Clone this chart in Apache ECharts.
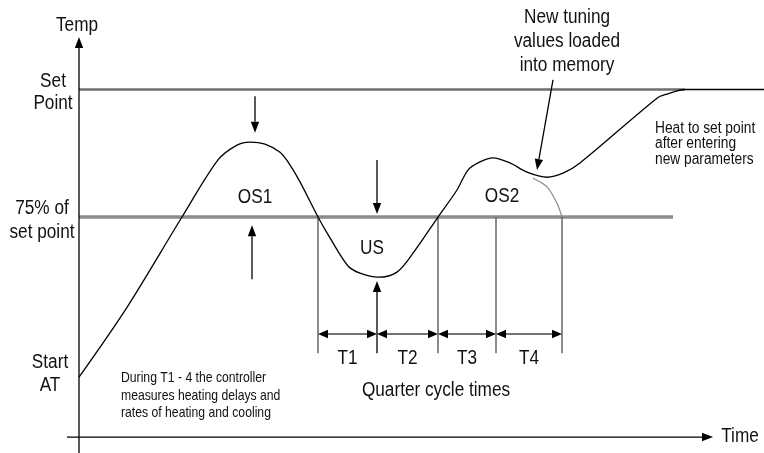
<!DOCTYPE html>
<html><head><meta charset="utf-8">
<script src="https://cdn.jsdelivr.net/npm/echarts@6/dist/echarts.min.js"></script>
<style>html,body{margin:0;padding:0;background:#fff}#c{width:764px;height:453px}</style>
</head><body><div id="c"></div>
<script>
// ---- Data (time units, temperature in % of set point) ----
const curveTime = [0, 4.8, 10.3, 13.9, 15.8, 17.1, 18.6, 20.1, 20.9, 22.1, 23.9, 25.1, 26.9, 28.1, 29.9, 31.8, 33.4, 35.9, 37.8, 38.9, 40.1, 41.4, 43.1, 44.8, 46.8, 48.4, 50.1, 57.8, 58.8, 60.6, 68.5];
const curveTemp = [43.6, 57.3, 75, 86.2, 89.1, 89.7, 89.3, 87.7, 85.8, 81.9, 75, 70.9, 65.4, 64.0, 63.2, 64.2, 67.9, 75, 80.3, 84.2, 85.8, 86.6, 85.6, 83.8, 82.8, 83.6, 85.6, 98.3, 99.1, 100, 100];
const oldTime = [45.4, 46.8, 47.8, 48.3];
const oldTemp = [82.6, 80.9, 77.7, 75];
const setPoint = 100;
const pct75 = 75;
const setPointEnd = 60.6;
const pct75End = 59.4;
const quarterTimes = [23.9, 29.8, 35.9, 41.7, 48.3];
const quarterLabels = ['T1', 'T2', 'T3', 'T4'];
const quarterBottom = 48.3;
const quarterArrowLevel = 52.06;
const quarterLabelLevel = 47.2;
const usArrowTop = 62.45;
const axisOrigin = [0, 31.86];
const yAxisEnds = [28.73, 110.3];
const xAxisEnds = [-1.2, 63.4];
// other annotation arrows [t1, T1, t2, T2]
const pointerArrows = [
  [17.6, 98.7, 17.6, 91.5],   // down to first peak
  [17.3, 62.8, 17.3, 73.4],   // up to 75% line
  [29.8, 86.2, 29.8, 75.6],   // down to 75% line
  [47.4, 101.9, 45.8, 84.2]   // new tuning values
];
const labelTexts = [
  {t: -0.2, T: 112.6, text: 'Temp', size: 20, align: 'center', lh: 20},
  {t: -2.6, T: 99.5, text: 'Set\nPoint', size: 20, align: 'center', lh: 22},
  {t: -3.7, T: 74.4, text: '75% of\nset point', size: 20, align: 'center', lh: 24},
  {t: -2.9, T: 44.3, text: 'Start\nAT', size: 20, align: 'center', lh: 23},
  {t: 17.6, T: 78.9, text: 'OS1', size: 20, align: 'center', lh: 20},
  {t: 29.3, T: 68.9, text: 'US', size: 20, align: 'center', lh: 20},
  {t: 42.3, T: 79.1, text: 'OS2', size: 20, align: 'center', lh: 20},
  {t: 48.8, T: 109.5, text: 'New tuning\nvalues loaded\ninto memory', size: 20, align: 'center', lh: 24},
  {t: 57.6, T: 89.3, text: 'Heat to set point\nafter entering\nnew parameters', size: 16, align: 'left', lh: 15.5},
  {t: 4.2, T: 39.9, text: 'During T1 - 4 the controller\nmeasures heating delays and\nrates of heating and cooling', size: 14.2, align: 'left', lh: 17.5},
  {t: 35.7, T: 40.9, text: 'Quarter cycle times', size: 20, align: 'center', lh: 20},
  {t: 66.1, T: 32.06, text: 'Time', size: 20, align: 'center', lh: 20}
];
const textSquash = 0.86;

const FONT = "'Liberation Sans', Arial, sans-serif";

function zip(a, b) { return a.map((v, i) => [v, b[i]]); }

// arrow renderer: value = [t1,T1,t2,T2, heads(0 none,1 end,2 both)]
function arrowRender(style) {
  return function (params, api) {
    const p1 = api.coord([api.value(0), api.value(1)]);
    const p2 = api.coord([api.value(2), api.value(3)]);
    const heads = api.value(4);
    const L = style.L, W = style.W;
    const dx = p2[0] - p1[0], dy = p2[1] - p1[1];
    const len = Math.sqrt(dx * dx + dy * dy) || 1;
    const ux = dx / len, uy = dy / len;
    const nx = -uy, ny = ux;
    const children = [];
    let s = p1.slice(), e = p2.slice();
    function head(tip, dirx, diry) {
      const bx = tip[0] - dirx * L, by = tip[1] - diry * L;
      children.push({
        type: 'polygon',
        shape: {points: [tip, [bx + nx * W, by + ny * W], [bx - nx * W, by - ny * W]]},
        style: {fill: style.headColor || '#000'}
      });
      return [bx, by];
    }
    if (heads >= 1) e = head(p2, ux, uy);
    if (heads >= 2) s = head(p1, -ux, -uy);
    children.unshift({
      type: 'line',
      shape: {x1: s[0], y1: s[1], x2: e[0], y2: e[1]},
      style: {stroke: style.color, lineWidth: style.width}
    });
    return {type: 'group', children: children};
  };
}

const axisArrows = [
  [axisOrigin[0], yAxisEnds[0], axisOrigin[0], yAxisEnds[1], 1],
  [xAxisEnds[0], axisOrigin[1], xAxisEnds[1], axisOrigin[1], 1]
];
const quarterVerticals = quarterTimes.filter((t, i) => i !== 1).map(t => [t, pct75, t, quarterBottom, 0]);
const quarterDouble = [];
for (let i = 0; i < quarterTimes.length - 1; i++) {
  quarterDouble.push([quarterTimes[i], quarterArrowLevel, quarterTimes[i + 1], quarterArrowLevel, 2]);
}
const upArrow = [[quarterTimes[1], quarterBottom, quarterTimes[1], usArrowTop, 1]];
const pointerData = pointerArrows.map(a => a.concat([1]));

const allTexts = labelTexts.concat(quarterLabels.map((l, i) => ({
  t: (quarterTimes[i] + quarterTimes[i + 1]) / 2, T: quarterLabelLevel, text: l, size: 20, align: 'center', lh: 20
})));
const textData = allTexts.map(d => [d.t, d.T]);

function textRender(params, api) {
  const d = allTexts[params.dataIndex];
  const p = api.coord([api.value(0), api.value(1)]);
  return {
    type: 'text', x: p[0], y: p[1], scaleX: textSquash, scaleY: 1,
    style: {
      text: d.text, fontSize: d.size, fontFamily: FONT, fill: '#111',
      align: d.align, verticalAlign: 'middle', lineHeight: d.lh
    }
  };
}

const chart = echarts.init(document.getElementById('c'), null, {renderer: 'canvas'});
chart.setOption({
  animation: false,
  backgroundColor: '#fff',
  grid: {left: 0, right: 0, top: 0, bottom: 0},
  xAxis: {type: 'value', min: -7.9, max: 68.5, show: false},
  yAxis: {type: 'value', min: 28.73, max: 117.55, show: false},
  series: [
    {
      type: 'line', name: 'setpoint', data: [[0, setPoint], [setPointEnd, setPoint]],
      symbol: 'none', lineStyle: {color: '#6e6e6e', width: 2.5}, z: 1, silent: true
    },
    {
      type: 'line', name: 'pct75', data: [[0, pct75], [pct75End, pct75]],
      symbol: 'none', lineStyle: {color: '#8c8c8c', width: 3.5}, z: 1, silent: true
    },
    {
      type: 'custom', name: 'quarterLines', renderItem: arrowRender({color: '#666', width: 1.5, L: 0, W: 0}),
      data: quarterVerticals, z: 2, silent: true
    },
    {
      type: 'custom', name: 'quarterArrows', renderItem: arrowRender({color: '#444', width: 1.5, L: 10, W: 4.2}),
      data: quarterDouble, z: 3, silent: true
    },
    {
      type: 'custom', name: 'axes', renderItem: arrowRender({color: '#000', width: 1.3, L: 11, W: 4.2}),
      data: axisArrows, z: 3, silent: true
    },
    {
      type: 'custom', name: 'pointers', renderItem: arrowRender({color: '#000', width: 1.3, L: 11, W: 4.2}),
      data: pointerData.concat(upArrow), z: 3, silent: true
    },
    {
      type: 'line', name: 'old', data: zip(oldTime, oldTemp), smooth: 0.3,
      symbol: 'none', lineStyle: {color: '#8a8a8a', width: 1.2}, z: 4, silent: true
    },
    {
      type: 'line', name: 'temp', data: zip(curveTime, curveTemp), smooth: 0.3,
      symbol: 'none', lineStyle: {color: '#000', width: 1.3}, z: 5, silent: true
    },
    {
      type: 'custom', name: 'texts', renderItem: textRender, data: textData, z: 6, silent: true
    }
  ]
});
</script>
</body></html>
